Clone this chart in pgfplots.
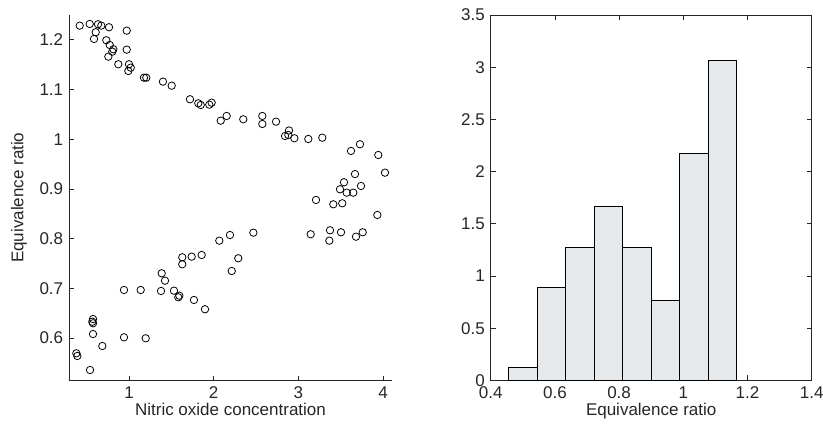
\documentclass[border=0pt]{standalone}
\usepackage{pgfplots}
\pgfplotsset{compat=1.18}
\usepackage{pgfplotstable}
\usepackage{fontspec}
\setmainfont{Liberation Sans}
\definecolor{barfill}{RGB}{229,233,235}
\definecolor{axcol}{RGB}{38,38,38}
\pgfplotstableread{
x y
0.418 1.2286
0.536 1.2320
0.634 1.2314
0.673 1.2286
0.764 1.2254
0.607 1.2153
0.973 1.2185
0.587 1.2018
0.732 1.1992
0.772 1.1897
0.815 1.1811
0.803 1.1763
0.973 1.1803
0.756 1.1662
0.874 1.1509
1.000 1.1509
1.020 1.1441
0.992 1.1374
1.177 1.1239
1.204 1.1239
1.401 1.1159
1.504 1.1078
1.720 1.0805
1.818 1.0724
1.847 1.0690
1.948 1.0696
1.976 1.0736
2.083 1.0374
2.153 1.0469
2.349 1.0402
2.574 1.0469
2.574 1.0308
2.736 1.0354
2.889 1.0177
2.842 1.0066
2.881 1.0087
2.952 1.0020
3.117 1.0006
3.282 1.0032
3.621 0.9765
3.727 0.9900
3.943 0.9684
4.022 0.9328
3.668 0.9300
3.538 0.9135
3.739 0.9060
3.491 0.8994
3.570 0.8926
3.648 0.8926
3.208 0.8779
3.412 0.8692
3.518 0.8712
3.932 0.8477
3.145 0.8089
3.373 0.8169
3.365 0.7960
3.503 0.8129
3.680 0.8040
3.759 0.8129
2.468 0.8121
2.192 0.8074
2.066 0.7960
1.858 0.7672
1.740 0.7638
1.629 0.7626
1.629 0.7485
2.290 0.7606
2.213 0.7350
1.386 0.7304
1.425 0.7155
1.378 0.6948
1.531 0.6954
1.594 0.6853
1.582 0.6821
1.767 0.6767
1.897 0.6580
0.941 0.6968
1.138 0.6968
0.575 0.6384
0.567 0.6330
0.575 0.6298
0.575 0.6082
0.941 0.6016
1.197 0.5996
0.685 0.5841
0.378 0.5694
0.390 0.5640
0.540 0.5358
}\scatterdata
\pgfplotstableread{
x h
0.4556 0.128
0.5444 0.895
0.6333 1.278
0.7222 1.662
0.8111 1.278
0.9000 0.767
0.9889 2.173
1.0778 3.068
1.1667 0
}\histdata
\begin{document}
\fontsize{17bp}{20bp}\selectfont
\begin{tikzpicture}
\useasboundingbox (0bp,0bp) rectangle (823bp,432bp);
\pgfplotsset{
  common/.style={
    scale only axis,
    anchor=south west,
    height=365.5bp,
    tick align=inside,
    major tick length=5bp,
    tick style={axcol, line width=0.8bp},
    /pgf/number format/assume math mode=true,
    ticklabel style={font=\fontsize{17bp}{20bp}\selectfont, text=axcol},
    label style={font=\fontsize{17bp}{20bp}\selectfont, text=axcol},
  }
}
\begin{axis}[
  common,
  at={(69bp,51.5bp)}, width=323bp,
  xmin=0.2916, xmax=4.105, ymin=0.5147, ymax=1.25,
  axis x line*=bottom, axis y line*=left,
  axis line style={-, axcol, line width=0.8bp},
  xtick={1,2,3,4}, ytick={0.6,0.7,0.8,0.9,1,1.1,1.2},
  xlabel={Nitric oxide concentration}, ylabel={Equivalence ratio},
  xlabel style={at={(axis description cs:0.5,-0.097)}, anchor=base},
  ylabel style={at={(axis description cs:-0.155,0.5)}, anchor=center, rotate=0},
]
\addplot[only marks, mark=o, mark size=3.7bp, mark options={line width=0.8bp, draw=black}] table[x=x, y=y] {\scatterdata};
\end{axis}
\begin{axis}[
  common,
  at={(490.7bp,51.5bp)}, width=321bp,
  xmin=0.4, xmax=1.4, ymin=0, ymax=3.5,
  tick pos=both,
  axis line style={axcol, line width=0.8bp},
  xtick={0.4,0.6,0.8,1,1.2,1.4}, ytick={0,0.5,1,1.5,2,2.5,3,3.5},
  xlabel={Equivalence ratio},
  xlabel style={at={(axis description cs:0.5,-0.097)}, anchor=base},
]
\addplot[ybar interval, fill=barfill, draw=black, line width=1bp] table[x=x, y=h] {\histdata};
\end{axis}
\end{tikzpicture}
\end{document}
